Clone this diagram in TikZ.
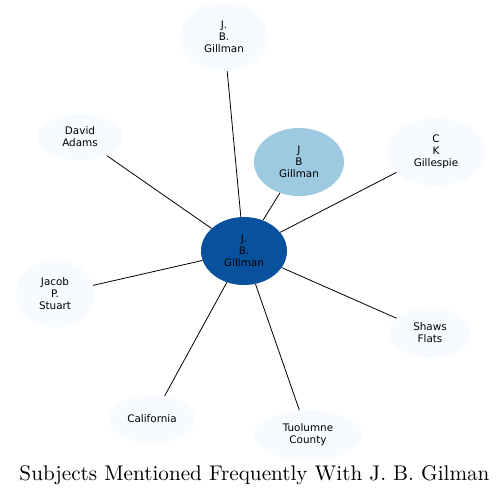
\documentclass[tikz,border=0pt]{standalone}
\usepackage{fontspec}
\usetikzlibrary{shapes.geometric}
\newfontfamily\nodefont{DejaVu Sans}
\definecolor{pale}{HTML}{F7FBFF}
\definecolor{mid}{HTML}{9ECAE1}
\definecolor{deep}{HTML}{08519C}
\begin{document}
\begin{tikzpicture}[x=1pt,y=-1pt,
  ent/.style={ellipse, inner sep=0pt, draw=none, fill=pale, align=center,
    font=\nodefont\fontsize{10.4}{12}\selectfont, text=black},
  link/.style={draw=black, line width=0.8pt}]
\useasboundingbox (0,0) rectangle (503,496);
\node[ent, fill=deep, minimum width=86pt, minimum height=68pt] (c) at (244,251) {J.\\B.\\Gillman};
\node[ent, fill=mid, minimum width=90pt, minimum height=68pt] (jb) at (299,162) {J\\B\\Gillman};
\node[ent, minimum width=88pt, minimum height=68pt] (top) at (224,37) {J.\\B.\\Gillman};
\node[ent, minimum width=86pt, minimum height=47pt] (da) at (80,137) {David\\Adams};
\node[ent, minimum width=98pt, minimum height=68pt] (ck) at (436,152) {C\\K\\Gillespie};
\node[ent, minimum width=78pt, minimum height=68pt] (jp) at (55,294) {Jacob\\P.\\Stuart};
\node[ent, minimum width=82pt, minimum height=50pt] (sf) at (430,333) {Shaws\\Flats};
\node[ent, minimum width=86pt, minimum height=48pt] (ca) at (152,419) {California};
\node[ent, minimum width=108pt, minimum height=50pt] (tc) at (308,435) {Tuolumne\\County};
\foreach \n in {jb,top,da,ck,jp,sf,ca,tc} \draw[link] (c) -- (\n);
\node[inner sep=0pt, anchor=base] (title) at (254.5,480) {\resizebox{470pt}{!}{\fontsize{10}{12}\selectfont Subjects Mentioned Frequently With J.~B. Gilman}};
\end{tikzpicture}
\end{document}
